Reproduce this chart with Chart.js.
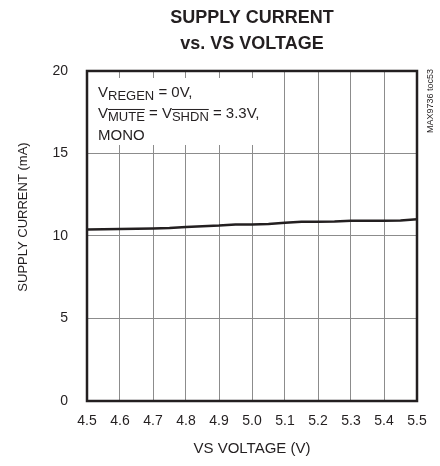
<!DOCTYPE html>
<html>
<head>
<meta charset="utf-8">
<script src="https://cdn.jsdelivr.net/npm/chart.js@4/dist/chart.umd.min.js"></script>
<style>
  html, body { margin: 0; padding: 0; background: #fff; }
  #wrap { width: 440px; height: 466px; }
</style>
</head>
<body>
<div id="wrap"><canvas id="supplyChart" width="440" height="466"></canvas></div>
<script>
// values
const voltage = [4.5, 4.6, 4.7, 4.75, 4.8, 4.9, 4.95, 5.0, 5.05, 5.1, 5.15, 5.2, 5.25, 5.3, 5.4, 5.45, 5.5];
const current = [10.40, 10.43, 10.46, 10.48, 10.55, 10.63, 10.70, 10.70, 10.72, 10.80, 10.86, 10.87, 10.88, 10.92, 10.93, 10.94, 11.01];
const xTicks = [4.5, 4.6, 4.7, 4.8, 4.9, 5.0, 5.1, 5.2, 5.3, 5.4, 5.5];
const yTicks = [0, 5, 10, 15, 20];
const titleLines = ['SUPPLY CURRENT', 'vs. VS VOLTAGE'];
const xTitle = 'VS VOLTAGE (V)';
const yTitle = 'SUPPLY CURRENT (mA)';
const partNote = 'MAX9736 toc53';

const FONT = '"Liberation Sans", Arial, sans-serif';
const INK = '#231f20';

// draws a run of text pieces: {t, sub, bar}
function drawRich(ctx, x, y, parts) {
    for (const p of parts) {
        ctx.font = (p.sub ? '13px ' : '15px ') + FONT;
        const dy = p.sub ? 3 : 0;
        ctx.fillText(p.t, x, y + dy);
        const w = ctx.measureText(p.t).width;
        if (p.bar) {
            ctx.beginPath();
            ctx.lineWidth = 1;
            ctx.moveTo(x, y + dy - 11.5);
            ctx.lineTo(x + w, y + dy - 11.5);
            ctx.stroke();
        }
        x += w;
    }
}

const decor = {
    id: 'decor',
    beforeDatasetsDraw(chart) {
        const { ctx, chartArea: a } = chart;
        // white box behind the conditions note
        ctx.save();
        ctx.fillStyle = '#fff';
        ctx.fillRect(a.left + 1, a.top + 7, 189, 67);
        ctx.restore();
    },
    afterDatasetsDraw(chart) {
        const { ctx, chartArea: a } = chart;
        ctx.save();
        // frame
        ctx.strokeStyle = INK;
        ctx.lineWidth = 2.5;
        ctx.strokeRect(a.left, a.top, a.right - a.left, a.bottom - a.top);

        // conditions note
        ctx.fillStyle = INK;
        ctx.strokeStyle = INK;
        ctx.textBaseline = 'alphabetic';
        ctx.textAlign = 'left';
        const x0 = a.left + 11;
        drawRich(ctx, x0, a.top + 26, [{ t: 'V' }, { t: 'REGEN', sub: true }, { t: ' = 0V,' }]);
        drawRich(ctx, x0, a.top + 47, [{ t: 'V' }, { t: 'MUTE', sub: true, bar: true }, { t: ' = V' },
            { t: 'SHDN', sub: true, bar: true }, { t: ' = 3.3V,' }]);
        drawRich(ctx, x0, a.top + 69, [{ t: 'MONO' }]);

        // y axis title
        ctx.save();
        ctx.translate(23, 217);
        ctx.rotate(-Math.PI / 2);
        ctx.textAlign = 'center';
        ctx.textBaseline = 'middle';
        ctx.font = '13px ' + FONT;
        ctx.fillText(yTitle, 0, 0);
        ctx.restore();

        // part number note on the right
        ctx.save();
        ctx.translate(a.right + 14, a.top - 2);
        ctx.rotate(-Math.PI / 2);
        ctx.textAlign = 'right';
        ctx.textBaseline = 'middle';
        ctx.font = '9px ' + FONT;
        ctx.fillText(partNote, 0, 0);
        ctx.restore();
        ctx.restore();
    }
};

const ctx = document.getElementById('supplyChart').getContext('2d');
new Chart(ctx, {
    type: 'line',
    data: {
        datasets: [{
            data: voltage.map((v, i) => ({ x: v, y: current[i] })),
            borderColor: INK,
            borderWidth: 2.5,
            pointRadius: 0,
            tension: 0,
            fill: false
        }]
    },
    options: {
        responsive: false,
        animation: false,
        events: [],
        layout: { padding: { top: 0, right: 23, bottom: 0, left: 0 } },
        plugins: {
            legend: { display: false },
            tooltip: { enabled: false },
            title: {
                display: true,
                fullSize: false,
                text: titleLines,
                color: INK,
                font: { family: FONT, size: 18, weight: 'bold', lineHeight: 1.444 },
                padding: { top: 5, bottom: 14 }
            }
        },
        scales: {
            x: {
                type: 'linear',
                min: 4.5,
                max: 5.5,
                afterFit: s => { s.height = 65; },
                afterBuildTicks: s => { s.ticks = xTicks.map(v => ({ value: v })); },
                ticks: {
                    color: INK,
                    padding: 12,
                    font: { family: FONT, size: 14 },
                    callback: v => v.toFixed(1)
                },
                grid: { color: '#8c8c8c', lineWidth: 1, drawTicks: false },
                border: { display: false },
                title: {
                    display: true,
                    text: xTitle,
                    color: INK,
                    font: { family: FONT, size: 15 },
                    padding: { top: 6, bottom: 8 }
                }
            },
            y: {
                min: 0,
                max: 20,
                afterFit: s => { s.width = 87; },
                afterBuildTicks: s => { s.ticks = yTicks.map(v => ({ value: v })); },
                ticks: {
                    color: INK,
                    padding: 19,
                    font: { family: FONT, size: 14 }
                },
                grid: { color: '#8c8c8c', lineWidth: 1, drawTicks: false },
                border: { display: false }
            }
        }
    },
    plugins: [decor]
});
</script>
</body>
</html>
